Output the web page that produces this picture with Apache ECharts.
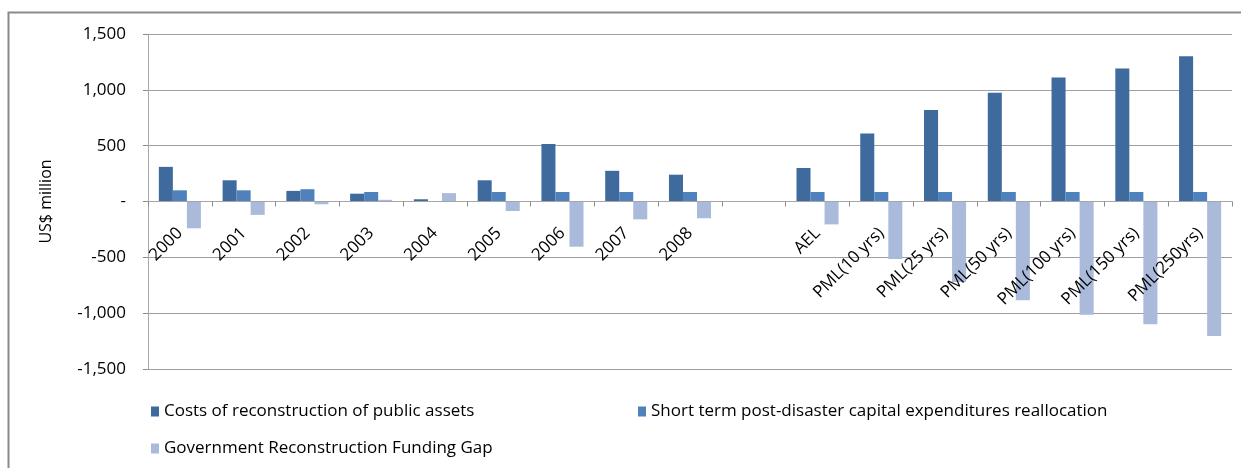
<!DOCTYPE html>
<html>
<head>
<meta charset="utf-8">
<script src="https://cdn.jsdelivr.net/npm/echarts@6/dist/echarts.min.js"></script>
<style>
html,body{margin:0;padding:0;background:#fff;}
#chart{width:1241px;height:468px;}
</style>
</head>
<body>
<div id="chart"></div>
<script>
const categories = ['2000','2001','2002','2003','2004','2005','2006','2007','2008','','AEL','PML(10 yrs)','PML(25 yrs)','PML(50 yrs)','PML(100 yrs)','PML(150 yrs)','PML(250yrs)'];
const costsReconstruction = [310,190,95,70,20,190,515,275,240,null,300,610,820,975,1110,1190,1300];
const shortTermRealloc = [100,100,110,85,0,85,85,85,85,null,85,85,85,85,85,85,85];
const fundingGap = [-240,-120,-25,15,75,-85,-405,-160,-150,null,-205,-515,-720,-885,-1015,-1100,-1205];
const yTicks = {min:-1500, max:1500, interval:500};
const seriesNames = ['Costs of reconstruction of public assets','Short term post-disaster capital expenditures reallocation','Government Reconstruction Funding Gap'];
const colors = ['#3F6A9E','#4F81BD','#AABADA'];

const chart = echarts.init(document.getElementById('chart'));
const font = '"Open Sans", "Noto Sans", sans-serif';
const legendBase = {orient:'horizontal', icon:'rect', itemWidth:8, itemHeight:10, itemGap:10,
  itemStyle:{borderWidth:0},
  textStyle:{fontFamily:font, fontSize:17, color:'#000'}};
const gridTop = 34, gridBottom = 99, H = 468;
const plotH = H - gridTop - gridBottom;
const zeroOffset = -plotH * (0 - yTicks.min) / (yTicks.max - yTicks.min);
chart.setOption({
  animation:false,
  color: colors,
  graphic:[{type:'rect', shape:{x:8.5, y:12.5, width:1400, height:600}, style:{fill:null, stroke:'#8a8a8a', lineWidth:2}, silent:true}],
  grid:{left:148, right:9, top:gridTop, bottom:gridBottom, containLabel:false},
  legend:[
    Object.assign({}, legendBase, {data:[seriesNames[0]], left:146, top:398}),
    Object.assign({}, legendBase, {data:[seriesNames[1]], left:633, top:398}),
    Object.assign({}, legendBase, {data:[seriesNames[2]], left:146, top:435})
  ],
  xAxis:{type:'category', data:categories, position:'bottom', offset:zeroOffset, z:5,
    axisLine:{onZero:false, lineStyle:{color:'#a6a6a6', width:1}},
    axisTick:{show:true, interval:0, alignWithLabel:false, length:5, lineStyle:{color:'#8c8c8c'}},
    axisLabel:{interval:0, rotate:45, margin:29, fontFamily:font, fontSize:17, color:'#000'},
    splitLine:{show:false}},
  yAxis:{type:'value', min:yTicks.min, max:yTicks.max, interval:yTicks.interval,
    name:'US$ million', nameLocation:'middle', nameGap:94, nameRotate:90,
    nameTextStyle:{fontFamily:font, fontSize:16, color:'#000'},
    axisLine:{show:true, lineStyle:{color:'#a6a6a6'}},
    axisTick:{show:true, length:5, lineStyle:{color:'#8c8c8c'}},
    axisLabel:{margin:22, fontFamily:font, fontSize:17, color:'#000',
      formatter:v => v === 0 ? '-' : v.toLocaleString('en-US')},
    splitLine:{show:true, lineStyle:{color:'#a0a0a0', width:1}}},
  series:[
    {name:seriesNames[0], type:'bar', data:costsReconstruction, barGap:'0%', barCategoryGap:'34%'},
    {name:seriesNames[1], type:'bar', data:shortTermRealloc, barGap:'0%', barCategoryGap:'34%'},
    {name:seriesNames[2], type:'bar', data:fundingGap, barGap:'0%', barCategoryGap:'34%'}
  ]
});
</script>
</body>
</html>
